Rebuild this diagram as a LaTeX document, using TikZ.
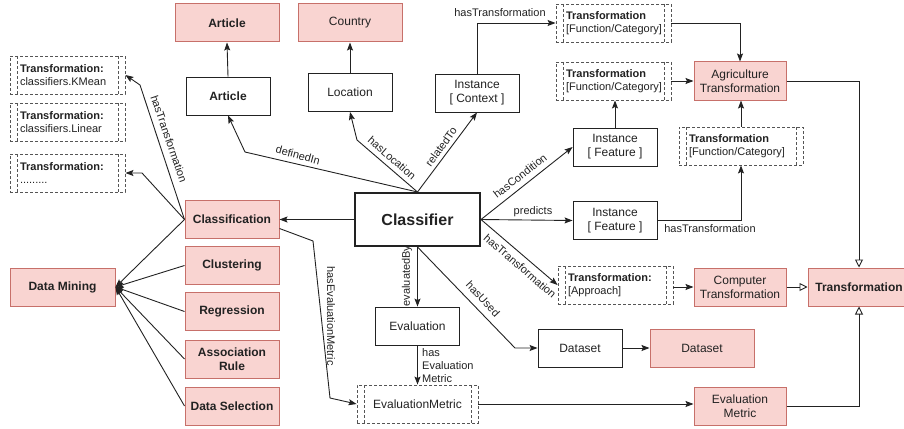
\documentclass[tikz,border=0pt]{standalone}
\usepackage{fontspec}
\setmainfont{Liberation Sans}
\usetikzlibrary{arrows.meta,calc}
\definecolor{pinkfill}{HTML}{F9D4D1}
\definecolor{pinkdraw}{HTML}{C7706A}
\definecolor{ink}{HTML}{222222}
\definecolor{dgray}{HTML}{555555}
\begin{document}
\begin{tikzpicture}[x=1pt,y=-1pt,
  box/.style={draw=ink, fill=white, line width=0.9pt, inner sep=1pt, align=center,
    font=\fontsize{12}{14}\selectfont, text=ink},
  wbox/.style={box, minimum width=84pt, minimum height=38pt},
  pbox/.style={box, draw=pinkdraw, fill=pinkfill, line width=1pt, minimum height=38pt},
  bold/.style={font=\fontsize{12}{14}\selectfont\bfseries},
  dbox/.style={draw=dgray, dash pattern=on 3pt off 2pt, fill=white, line width=0.9pt,
    minimum height=38pt, inner xsep=10pt, inner ysep=0pt, align=left, text=ink,
    font=\fontsize{11}{13}\selectfont,
    path picture={\draw[dgray, dash pattern=on 3pt off 2pt, line width=0.9pt]
      ([xshift=7pt]path picture bounding box.north west) -- ([xshift=7pt]path picture bounding box.south west)
      ([xshift=-7pt]path picture bounding box.north east) -- ([xshift=-7pt]path picture bounding box.south east);}},
  arr/.style={draw=ink, line width=0.9pt, -{Stealth[length=8pt,width=6pt,inset=1.5pt]}},
  tri/.style={draw=ink, line width=0.9pt, -{Triangle[open,length=8pt,width=8pt]}},
  lbl/.style={font=\fontsize{11}{13}\selectfont, text=ink, inner sep=0pt}
]
\useasboundingbox (0,0) rectangle (904,428);

% top row
\node[pbox, bold, minimum width=104pt] (artP) at (227,23) {Article};
\node[pbox, minimum width=104pt] (country) at (350,23) {Country};
\node[wbox, bold] (artW) at (228,96) {Article};
\node[wbox] (loc) at (350,92.5) {Location};
\node[wbox] (ictx) at (477,93) {Instance\\{}[ Context ]};
\node[dbox, minimum width=115pt, text width=95pt] (t1) at (613.5,23) {\textbf{Transformation}\\{}[Function/Category]};
\node[dbox, minimum width=115pt, text width=95pt] (t2) at (613.5,81) {\textbf{Transformation}\\{}[Function/Category]};
\node[pbox, minimum width=92pt] (agri) at (740,81) {Agriculture\\Transformation};
\node[wbox] (ifeat1) at (615,147) {Instance\\{}[ Feature ]};
\node[dbox, minimum width=124pt, text width=104pt] (t3) at (741,146) {\textbf{Transformation}\\{}[Function/Category]};
\node[wbox] (ifeat2) at (615,220.5) {Instance\\{}[ Feature ]};
\node[dbox, minimum width=115pt, text width=95pt] (tapp) at (615.5,285) {\textbf{Transformation:}\\{}[Approach]};
\node[pbox, minimum width=92pt] (comp) at (740,287) {Computer\\Transformation};
\node[pbox, bold, minimum width=102pt] (trans) at (859,287) {Transformation};
\node[wbox] (dsW) at (580,348) {Dataset};
\node[pbox, minimum width=104pt] (dsP) at (702,348) {Dataset};
\node[pbox, minimum width=92pt] (emP) at (740,406.5) {Evaluation\\Metric};
\node[dbox, minimum width=121pt, text width=101pt, align=center, font=\fontsize{12}{14}\selectfont] (emD) at (417.5,404) {EvaluationMetric};
\node[wbox] (eval) at (417.5,326) {Evaluation};
\node[box, line width=2pt, minimum width=125pt, minimum height=53pt, font=\fontsize{16}{18}\selectfont\bfseries] (clf) at (417.5,219.5) {Classifier};

% left column
\node[pbox, bold, minimum width=94pt] (clsf) at (232,219.5) {Classification};
\node[pbox, bold, minimum width=94pt] (clus) at (232,265.5) {Clustering};
\node[pbox, bold, minimum width=94pt] (reg) at (232,311.5) {Regression};
\node[pbox, bold, minimum width=94pt] (assoc) at (232,359) {Association\\Rule};
\node[pbox, bold, minimum width=94pt] (dsel) at (232,406) {Data Selection};
\node[pbox, bold, minimum width=105pt] (dm) at (62.5,287) {Data Mining};
\node[dbox, minimum width=115pt, text width=95pt] (lt1) at (67.5,75) {\textbf{Transformation:}\\classifiers.KMean};
\node[dbox, minimum width=115pt, text width=95pt] (lt2) at (67.5,122) {\textbf{Transformation:}\\classifiers.Linear};
\node[dbox, minimum width=115pt, text width=95pt] (lt3) at (67.5,173) {\textbf{Transformation:}\\.........};

% connectors
\draw[arr] (artW.north) -- (artP.south);
\draw[arr] (loc.north) -- (country.south);
\draw[arr] (clf.north) -- (245,152) -- (artW.south);
\draw[arr] (clf.north) -- (357,140) -- (loc.south);
\draw[arr] (clf.north) -- (ictx.south);
\draw[arr] (ictx.north) |- (t1.west);
\draw[arr] (t1.east) -| (agri.north);
\draw[arr] (t2.east) -- (agri.west);
\draw[arr] (ifeat1.north) -- (ifeat1.north |- t2.south);
\draw[arr] (t3.north) -- (t3.north |- agri.south);
\draw[arr] (ifeat2.east) -| (t3.south);
\draw[tri] (agri.east) -| (trans.north);
\draw[tri] (comp.east) -- (trans.west);
\draw[tri] (emP.east) -| (trans.south);
\draw[arr] (tapp.east |- comp.west) -- (comp.west);
\draw[arr] (clf.east) -- (ifeat1.west);
\draw[arr] (clf.east) -- (ifeat2.west);
\draw[arr] (clf.east) -- (tapp.west);
\draw[arr] (clf.south) -- (eval.north);
\draw[arr] (clf.south) -- (515,348) -- (dsW.west);
\draw[arr] (dsW.east) -- (dsP.west);
\draw[arr] (eval.south) -- (emD.north);
\draw[arr] (emD.east) -- (emD.east -| emP.west);
\draw[arr] (clf.west) -- (clsf.east);
\draw[arr] ([yshift=-9pt]clsf.east) -- (313,241) -- (330,398) -- (emD.west);
\draw[arr] (clsf.west) -- (140,85) -- (lt1.east);
\draw[arr] (clsf.west) -- (142,173) -- (lt3.east);
\foreach \n in {clsf,clus,reg,assoc,dsel} \draw[arr] (\n.west) -- (dm.east);

% labels
\node[lbl, rotate=-15] (lDef) at (298,155) {definedIn};
\node[lbl, rotate=-41] (lLoc) at (392,158) {hasLocation};
\node[lbl, rotate=54] (lRel) at (441,147) {relatedTo};
\node[lbl] (lHT1) at (500,13) {hasTransformation};
\node[lbl, rotate=38] (lCond) at (520,176) {hasCondition};
\node[lbl] (lPred) at (533,212) {predicts};
\node[lbl, rotate=-41] (lHT2) at (520,266) {hasTransformation};
\node[lbl, rotate=-47] (lUsed) at (483,299) {hasUsed};
\node[lbl, rotate=90] (lEvB) at (407,276) {evaluatedBy};
\node[lbl, anchor=west, align=left] (lHEM) at (422,366) {has\\Evaluation\\Metric};
\node[lbl] (lHT3) at (710,229) {hasTransformation};
\node[lbl, rotate=-90] (lHEM2) at (331,316) {hasEvaluationMetric};
\node[lbl, rotate=-71] (lHT4) at (169,139) {hasTransformation};
\end{tikzpicture}
\end{document}
